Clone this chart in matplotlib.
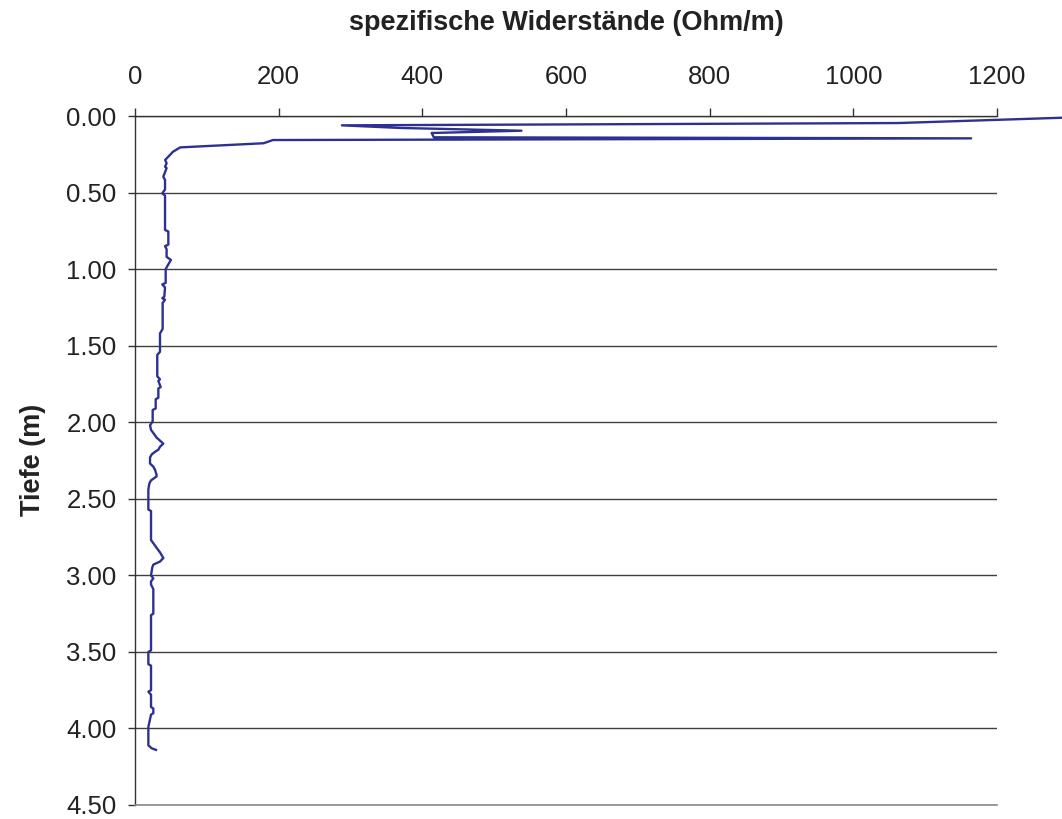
import matplotlib
matplotlib.use("Agg")
import matplotlib.pyplot as plt
from matplotlib.ticker import FormatStrFormatter

# ---- data (depth in m, resistivity in Ohm/m) ----
depth = [0.000, 0.035, 0.046, 0.061, 0.078, 0.096, 0.111, 0.139, 0.146, 0.157,
         0.178, 0.205, 0.233, 0.287, 0.309, 0.331, 0.340, 0.396, 0.418, 0.480,
         0.505, 0.520, 0.744, 0.755, 0.840, 0.850, 0.870, 0.920, 0.940, 0.980,
         1.000, 1.090, 1.100, 1.120, 1.180, 1.190, 1.200, 1.220, 1.390, 1.420,
         1.540, 1.560, 1.700, 1.720, 1.730, 1.770, 1.780, 1.840, 1.850, 1.910,
         1.920, 1.995, 2.020, 2.050, 2.080, 2.100, 2.120, 2.140, 2.160, 2.180,
         2.190, 2.210, 2.230, 2.270, 2.290, 2.310, 2.343, 2.354, 2.380, 2.400,
         2.440, 2.570, 2.580, 2.770, 2.790, 2.820, 2.850, 2.887, 2.910, 2.930,
         2.950, 3.000, 3.020, 3.040, 3.060, 3.090, 3.250, 3.260, 3.490, 3.500,
         3.580, 3.590, 3.750, 3.760, 3.780, 3.860, 3.870, 3.900, 3.910, 3.960,
         3.990, 4.110, 4.130, 4.140]
resistivity = [1365, 1135, 1062, 288, 369, 538, 413, 416, 1164, 192,
               179, 63, 53, 42, 44, 41.8, 44, 39.4, 41.8, 41.8,
               38, 41.8, 41.8, 46.4, 46.4, 41.8, 44, 44, 50, 45,
               42.7, 42.7, 38, 41.8, 40.8, 38, 41.8, 38.5, 38.5, 34.8,
               34.8, 31, 31, 34.8, 32.5, 35.7, 32.5, 32.5, 28.8, 28.8,
               24.6, 24.6, 20.9, 22.3, 27, 30, 34.8, 39.4, 34.8, 32.5,
               28.8, 23.3, 20.9, 20.9, 25.5, 27.8, 30, 30, 22.3, 20,
               18.6, 18.6, 22.3, 22.3, 25.5, 30, 34.8, 39.5, 34.8, 25.5,
               24, 22.3, 25.5, 22.3, 22.3, 25.5, 25.5, 22.3, 22.3, 18.6,
               18.6, 22.3, 22.3, 18.6, 22.3, 22.3, 25.5, 25.5, 22.3, 20,
               18.6, 18.6, 23.3, 29.2]

x_ticks = [0, 200, 400, 600, 800, 1000, 1200]
y_ticks = [0.0, 0.5, 1.0, 1.5, 2.0, 2.5, 3.0, 3.5, 4.0, 4.5]

title = "spezifische Widerstände (Ohm/m)"
ylabel = "Tiefe (m)"

plt.rcParams['font.family'] = ['Liberation Sans', 'DejaVu Sans']

W, H = 1062, 819
fig = plt.figure(figsize=(W / 100, H / 100), dpi=100)
fig.patch.set_facecolor('white')

l, r, t, b = 135, 997, 116, 805
ax = fig.add_axes([l / W, 1 - b / H, (r - l) / W, (b - t) / H])

ax.plot(resistivity, depth, color='#2E3192', lw=1.7, clip_on=False, zorder=3)

ax.set_xlim(0, 1200)
ax.set_ylim(4.5, 0)
ax.xaxis.tick_top()
ax.set_xticks(x_ticks)
ax.set_yticks(y_ticks)
ax.yaxis.set_major_formatter(FormatStrFormatter('%.2f'))

ax.tick_params(axis='x', direction='out', length=5.8, width=1, colors='#333333',
               labelcolor='#222222', labelsize=18.5, pad=14)
ax.tick_params(axis='y', direction='out', length=5.2, width=1, colors='#333333',
               labelcolor='#222222', labelsize=18.5, pad=8)

ax.spines['right'].set_visible(False)
ax.spines['bottom'].set_color('#8a8a8a')
ax.spines['bottom'].set_linewidth(1.2)
for side in ['top', 'left']:
    ax.spines[side].set_color('#333333')
    ax.spines[side].set_linewidth(1)

ax.yaxis.grid(True, color='#404040', lw=1)
ax.xaxis.grid(False)
ax.set_axisbelow(True)

fig.text(566 / W, 1 - 23 / H, title, ha='center', va='center',
         fontsize=19.5, fontweight='bold', color='#222222')
fig.text(33 / W, 1 - 460 / H, ylabel, ha='center', va='center', rotation=90,
         fontsize=19.5, fontweight='bold', color='#222222')

fig.savefig('out.png', dpi=100, facecolor='white')
